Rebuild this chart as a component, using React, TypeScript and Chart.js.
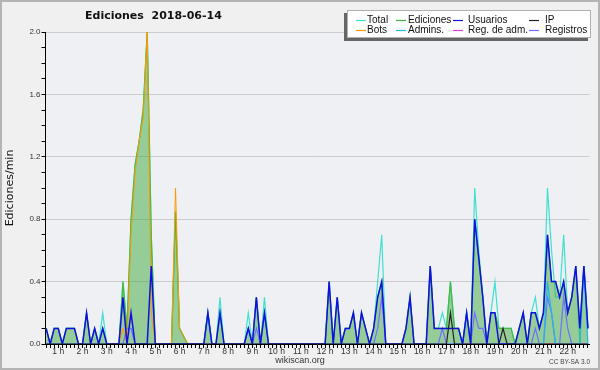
import React, { useEffect, useRef } from "react";
import { Chart, registerables } from "chart.js";

Chart.register(...registerables);

// time axis: one value every 10 minutes, from 0:30 to 22:50
const FIRST_HOUR = 0.5;
const STEP_HOURS = 1 / 6;
const X_MIN = 0.474;
const X_MAX = 22.89;

// values in edits per minute, grouped by hour
const total = [
  0.1, 0, 0.1, // 0h
  0.1, 0, 0.1, 0.1, 0.1, 0, // 1h
  0, 0.2, 0, 0.1, 0, 0.2, // 2h
  0, 0, 0, 0, 0.4, 0.1, // 3h
  0.8, 1.15, 1.3, 1.5, 2.0, 0.7, // 4h
  0, 0, 0, 0, 0, 0.85, // 5h
  0.1, 0.05, 0, 0, 0, 0, // 6h
  0, 0.2, 0, 0, 0.3, 0, // 7h
  0, 0, 0, 0, 0, 0.2, // 8h
  0, 0.3, 0, 0.3, 0, 0, // 9h
  0, 0, 0, 0, 0, 0, // 10h
  0, 0, 0, 0, 0, 0, // 11h
  0, 0.4, 0, 0.3, 0, 0.1, // 12h
  0.1, 0.2, 0, 0.2, 0.1, 0, // 13h
  0.1, 0.4, 0.7, 0, 0, 0, // 14h
  0, 0, 0.1, 0.3, 0, 0, // 15h
  0, 0, 0.5, 0.1, 0.1, 0.2, // 16h
  0.1, 0.4, 0.1, 0.1, 0, 0.2, // 17h
  0, 1.0, 0.6, 0.3, 0, 0.2, // 18h
  0.4, 0.1, 0.1, 0.1, 0.1, 0, // 19h
  0.1, 0.2, 0, 0.2, 0.3, 0.1, // 20h
  0.2, 1.0, 0.6, 0.3, 0.3, 0.7, // 21h
  0.2, 0.3, 0.5, 0, 0.5, 0.1, // 22h
];

const ediciones = [
  0.1, 0, 0.1, // 0h
  0.1, 0, 0.1, 0.1, 0.1, 0, // 1h
  0, 0.2, 0, 0.1, 0, 0.1, // 2h
  0, 0, 0, 0, 0.4, 0.1, // 3h
  0.8, 1.15, 1.3, 1.5, 2.0, 0.7, // 4h
  0, 0, 0, 0, 0, 0.85, // 5h
  0.1, 0.05, 0, 0, 0, 0, // 6h
  0, 0.2, 0, 0, 0.2, 0, // 7h
  0, 0, 0, 0, 0, 0.1, // 8h
  0, 0.3, 0, 0.2, 0, 0, // 9h
  0, 0, 0, 0, 0, 0, // 10h
  0, 0, 0, 0, 0, 0, // 11h
  0, 0.4, 0, 0.3, 0, 0.1, // 12h
  0.1, 0.2, 0, 0.2, 0.1, 0, // 13h
  0.1, 0.3, 0.4, 0, 0, 0, // 14h
  0, 0, 0.1, 0.3, 0, 0, // 15h
  0, 0, 0.5, 0.1, 0.1, 0.1, // 16h
  0.1, 0.4, 0.1, 0.1, 0, 0.2, // 17h
  0, 0.8, 0.55, 0.3, 0, 0.2, // 18h
  0.2, 0.1, 0.1, 0.1, 0.1, 0, // 19h
  0.1, 0.2, 0, 0.2, 0.2, 0.1, // 20h
  0.2, 0.7, 0.4, 0.4, 0.3, 0.4, // 21h
  0.2, 0.3, 0.5, 0.1, 0.5, 0.1, // 22h
];

const usuarios = [
  0.1, 0, 0.1, // 0h
  0.1, 0, 0.1, 0.1, 0.1, 0, // 1h
  0, 0.2, 0, 0.1, 0, 0.1, // 2h
  0, 0, 0, 0, 0.3, 0, // 3h
  0.2, 0, 0, 0, 0, 0.5, // 4h
  0, 0, 0, 0, 0, 0, // 5h
  0, 0, 0, 0, 0, 0, // 6h
  0, 0.2, 0, 0, 0.2, 0, // 7h
  0, 0, 0, 0, 0, 0.1, // 8h
  0, 0.3, 0, 0.2, 0, 0, // 9h
  0, 0, 0, 0, 0, 0, // 10h
  0, 0, 0, 0, 0, 0, // 11h
  0, 0.4, 0, 0.3, 0, 0.1, // 12h
  0.1, 0.2, 0, 0.2, 0.1, 0, // 13h
  0.1, 0.3, 0.4, 0, 0, 0, // 14h
  0, 0, 0.1, 0.3, 0, 0, // 15h
  0, 0, 0.5, 0.1, 0.1, 0.1, // 16h
  0.1, 0.1, 0.1, 0.1, 0, 0.2, // 17h
  0, 0.8, 0.55, 0.3, 0, 0.2, // 18h
  0.2, 0, 0, 0, 0, 0, // 19h
  0.1, 0.2, 0, 0.2, 0.2, 0.1, // 20h
  0.2, 0.7, 0.4, 0.4, 0.3, 0.4, // 21h
  0.2, 0.3, 0.5, 0.1, 0.5, 0.1, // 22h
];

const ip = [
  0, 0, 0, // 0h
  0, 0, 0, 0, 0, 0, // 1h
  0, 0, 0, 0, 0, 0, // 2h
  0, 0, 0, 0, 0, 0, // 3h
  0, 0, 0, 0, 0, 0, // 4h
  0, 0, 0, 0, 0, 0, // 5h
  0, 0, 0, 0, 0, 0, // 6h
  0, 0, 0, 0, 0, 0, // 7h
  0, 0, 0, 0, 0, 0, // 8h
  0, 0, 0, 0, 0, 0, // 9h
  0, 0, 0, 0, 0, 0, // 10h
  0, 0, 0, 0, 0, 0, // 11h
  0, 0, 0, 0, 0, 0, // 12h
  0, 0, 0, 0, 0, 0, // 13h
  0, 0, 0, 0, 0, 0, // 14h
  0, 0, 0, 0, 0, 0, // 15h
  0, 0, 0, 0, 0, 0, // 16h
  0, 0.2, 0, 0, 0, 0, // 17h
  0, 0, 0, 0, 0, 0, // 18h
  0, 0, 0.1, 0, 0, 0, // 19h
  0, 0, 0, 0, 0, 0, // 20h
  0, 0, 0, 0, 0, 0, // 21h
  0, 0, 0, 0, 0, 0, // 22h
];

const bots = [
  0, 0, 0, // 0h
  0, 0, 0, 0, 0, 0, // 1h
  0, 0, 0, 0, 0, 0, // 2h
  0, 0, 0, 0, 0.1, 0, // 3h
  0.7, 1.1, 1.3, 1.45, 2.0, 0.2, // 4h
  0, 0, 0, 0, 0, 1.0, // 5h
  0.1, 0.05, 0, 0, 0, 0, // 6h
  0, 0, 0, 0, 0, 0, // 7h
  0, 0, 0, 0, 0, 0, // 8h
  0, 0, 0, 0, 0, 0, // 9h
  0, 0, 0, 0, 0, 0, // 10h
  0, 0, 0, 0, 0, 0, // 11h
  0, 0, 0, 0, 0, 0, // 12h
  0, 0, 0, 0, 0, 0, // 13h
  0, 0, 0, 0, 0, 0, // 14h
  0, 0, 0, 0, 0, 0, // 15h
  0, 0, 0, 0, 0, 0, // 16h
  0, 0, 0, 0, 0, 0, // 17h
  0, 0, 0, 0, 0, 0, // 18h
  0, 0, 0, 0, 0, 0, // 19h
  0, 0, 0, 0, 0, 0, // 20h
  0, 0, 0, 0, 0, 0, // 21h
  0, 0, 0, 0, 0, 0, // 22h
];

const admins = [
  0, 0, 0, // 0h
  0, 0, 0, 0, 0, 0, // 1h
  0, 0, 0, 0, 0, 0, // 2h
  0, 0, 0, 0, 0, 0, // 3h
  0, 0, 0, 0, 0, 0, // 4h
  0, 0, 0, 0, 0, 0, // 5h
  0, 0, 0, 0, 0, 0, // 6h
  0, 0.2, 0, 0, 0, 0, // 7h
  0, 0, 0, 0, 0, 0, // 8h
  0, 0, 0, 0, 0, 0, // 9h
  0, 0, 0, 0, 0, 0, // 10h
  0, 0, 0, 0, 0, 0, // 11h
  0, 0, 0, 0, 0, 0, // 12h
  0, 0, 0, 0, 0, 0, // 13h
  0, 0, 0, 0, 0, 0, // 14h
  0, 0, 0, 0, 0, 0, // 15h
  0, 0, 0, 0, 0, 0, // 16h
  0, 0, 0, 0, 0, 0.2, // 17h
  0, 0, 0, 0, 0, 0, // 18h
  0, 0, 0, 0, 0, 0, // 19h
  0, 0, 0, 0, 0, 0, // 20h
  0, 0.4, 0.2, 0, 0, 0, // 21h
  0, 0, 0, 0, 0.5, 0, // 22h
];

const regAdm = [
  0, 0, 0, // 0h
  0, 0, 0, 0, 0, 0, // 1h
  0, 0, 0, 0, 0, 0, // 2h
  0, 0, 0, 0, 0, 0, // 3h
  0, 0, 0, 0, 0, 0, // 4h
  0, 0, 0, 0, 0, 0, // 5h
  0, 0, 0, 0, 0, 0, // 6h
  0, 0, 0, 0, 0, 0, // 7h
  0, 0, 0, 0, 0, 0, // 8h
  0, 0, 0, 0, 0, 0, // 9h
  0, 0, 0, 0, 0, 0, // 10h
  0, 0, 0, 0, 0, 0, // 11h
  0, 0, 0, 0, 0, 0, // 12h
  0, 0, 0, 0, 0, 0, // 13h
  0, 0, 0, 0, 0, 0, // 14h
  0, 0, 0, 0, 0, 0, // 15h
  0, 0, 0, 0, 0, 0, // 16h
  0, 0, 0, 0, 0, 0, // 17h
  0, 0, 0, 0, 0, 0, // 18h
  0, 0, 0, 0, 0, 0, // 19h
  0, 0, 0, 0, 0, 0, // 20h
  0, 0, 0, 0, 0, 0, // 21h
  0, 0, 0, 0, 0, 0, // 22h
];

const registros = [
  0, 0, 0, // 0h
  0, 0, 0, 0, 0, 0, // 1h
  0, 0, 0, 0, 0, 0, // 2h
  0, 0, 0, 0, 0, 0.1, // 3h
  0.1, 0, 0, 0, 0, 0, // 4h
  0, 0, 0, 0, 0, 0, // 5h
  0, 0, 0, 0, 0, 0, // 6h
  0, 0, 0, 0, 0, 0, // 7h
  0, 0, 0, 0, 0, 0.1, // 8h
  0, 0.1, 0, 0, 0, 0, // 9h
  0, 0, 0, 0, 0, 0, // 10h
  0, 0, 0, 0, 0, 0, // 11h
  0, 0, 0, 0, 0, 0, // 12h
  0, 0, 0, 0, 0, 0, // 13h
  0, 0.1, 0.3, 0, 0, 0, // 14h
  0, 0, 0, 0, 0, 0, // 15h
  0, 0, 0, 0, 0, 0.1, // 16h
  0, 0, 0, 0, 0, 0, // 17h
  0, 0.2, 0.1, 0.1, 0, 0, // 18h
  0, 0, 0, 0, 0, 0, // 19h
  0, 0, 0, 0, 0.1, 0, // 20h
  0, 0.3, 0.2, 0, 0, 0.3, // 21h
  0.1, 0, 0, 0, 0, 0, // 22h
];

const seriesNames = ["Total", "Ediciones", "Usuarios", "IP", "Bots", "Admins.", "Reg. de adm.", "Registros"];
const seriesColors = ["#40e0d0", "#3cb43c", "#1010e0", "#222222", "#ff9900", "#20b8e8", "#e040e0", "#7070ff"];
const chartTitle = "Ediciones  2018-06-14";
const yTitle = "Ediciones/min";
const footerCenter = "wikiscan.org";
const footerRight = "CC BY-SA 3.0";

const times = total.map((_, i) => FIRST_HOUR + i * STEP_HOURS);
const toPoints = (vals: number[]) => vals.map((v, i) => ({ x: times[i], y: v }));

const line = (idx: number, data: number[], order: number, extra: any = {}) => ({
  label: seriesNames[idx],
  data: toPoints(data),
  borderColor: seriesColors[idx],
  backgroundColor: seriesColors[idx],
  borderWidth: 1.2,
  pointRadius: 0,
  tension: 0,
  fill: false,
  order,
  ...extra,
});

const legendCols = [
  { line: 356, text: 367 },
  { line: 396, text: 408 },
  { line: 453, text: 468 },
  { line: 529, text: 545 },
];
const legendRows = [20, 30];

const decor = {
  id: "decor",
  beforeDraw(chart: any) {
    const { ctx, chartArea: a, width, height } = chart;
    ctx.save();
    ctx.fillStyle = "#f0f0f0";
    ctx.fillRect(0, 0, width, height);
    ctx.fillStyle = "#eef0f3";
    ctx.fillRect(a.left, a.top, a.right - a.left, a.bottom - a.top);
    ctx.restore();
  },
  afterDraw(chart: any) {
    const { ctx, width, height } = chart;
    ctx.save();
    // frame
    ctx.strokeStyle = "#b4b4b4";
    ctx.lineWidth = 2;
    ctx.strokeRect(1, 1, width - 2, height - 2);
    // title
    ctx.fillStyle = "#111";
    ctx.font = "bold 11px 'DejaVu Sans'";
    ctx.textAlign = "left";
    ctx.textBaseline = "middle";
    ctx.fillText(chartTitle, 85, 16.5);
    // legend box
    ctx.fillStyle = "#666666";
    ctx.fillRect(344, 13, 244, 28);
    ctx.fillStyle = "#ffffff";
    ctx.fillRect(347, 10, 244, 28);
    ctx.strokeStyle = "#b0b0b0";
    ctx.lineWidth = 1;
    ctx.strokeRect(347.5, 10.5, 243, 27);
    ctx.font = "10px 'Liberation Sans'";
    ctx.textBaseline = "middle";
    seriesNames.forEach((name, i) => {
      const col = legendCols[i % 4];
      const y = legendRows[Math.floor(i / 4)];
      ctx.strokeStyle = seriesColors[i];
      ctx.lineWidth = 1.2;
      ctx.beginPath();
      ctx.moveTo(col.line, y + 0.5);
      ctx.lineTo(col.line + 10, y + 0.5);
      ctx.stroke();
      ctx.fillStyle = "#111";
      ctx.fillText(name, col.text, y + 0.5);
    });
    // footers
    ctx.fillStyle = "#333";
    ctx.font = "9px 'Liberation Sans'";
    ctx.textAlign = "center";
    ctx.fillText(footerCenter, 300, 361);
    ctx.font = "6.5px 'Liberation Sans'";
    ctx.textAlign = "right";
    ctx.fillStyle = "#444";
    ctx.fillText(footerRight, 590, 362);
    ctx.restore();
  },
};

export default function App() {
  const ref = useRef<HTMLCanvasElement>(null);
  useEffect(() => {
    document.body.style.margin = "0";
    const chart = new Chart(ref.current as HTMLCanvasElement, {
      type: "line",
      data: {
        datasets: [
          line(3, ip, 0, { borderWidth: 1.2 }),
          line(2, usuarios, 1, { borderWidth: 1.5 }),
          line(5, admins, 2),
          line(7, registros, 3),
          line(6, regAdm, 4),
          line(4, bots, 5, { borderWidth: 1 }),
          line(1, ediciones, 6, { fill: "origin", backgroundColor: "rgba(62,168,61,0.5)", borderColor: "#44bb44" }),
          line(0, total, 7),
        ] as any,
      },
      options: {
        animation: false,
        responsive: false,
        devicePixelRatio: 1,
        layout: { padding: { top: 32, right: 10.7, bottom: 8, left: 0 } },
        plugins: { legend: { display: false }, tooltip: { enabled: false }, title: { display: false } },
        scales: {
          x: {
            type: "linear",
            min: X_MIN,
            max: X_MAX,
            z: 1,
            afterBuildTicks: (scale: any) => {
              scale.ticks = times.map((t) => ({ value: t }));
            },
            afterFit: (scale: any) => {
              scale.height = 18;
            },
            border: { display: true, color: "#000", width: 1 },
            grid: { drawOnChartArea: false, drawTicks: true, tickLength: 4, tickColor: "#000", tickWidth: 1 },
            ticks: {
              autoSkip: false,
              maxRotation: 0,
              padding: -1,
              color: "#333",
              font: { family: "'Liberation Sans'", size: 8.5 },
              callback: (value: any) => {
                const v = Number(value);
                const h = Math.round(v);
                return Math.abs(v - h) < 1e-6 && h >= 1 ? `${h} h` : "";
              },
            },
          },
          y: {
            min: 0,
            max: 2,
            afterFit: (scale: any) => {
              scale.width = 45.5;
            },
            border: { display: true, color: "#000", width: 1 },
            grid: {
              drawTicks: true,
              tickLength: 4,
              tickColor: "#000",
              color: (ctx: any) =>
                ctx.tick && Math.round(ctx.tick.value * 10) % 4 === 0 ? "#cccccc" : "rgba(0,0,0,0)",
            },
            title: {
              display: true,
              text: yTitle,
              color: "#111",
              font: { family: "'DejaVu Sans'", size: 11 },
              padding: { top: 4, bottom: 0 },
            },
            ticks: {
              stepSize: 0.1,
              autoSkip: false,
              padding: 1,
              color: "#333",
              font: { family: "'Liberation Sans'", size: 8 },
              callback: (value: any) => {
                const n = Math.round(Number(value) * 10);
                return n % 4 === 0 ? (n / 10).toFixed(1) : "";
              },
            },
          },
        },
      },
      plugins: [decor],
    });
    return () => chart.destroy();
  }, []);
  return (
    <div style={{ width: 600, height: 370 }}>
      <canvas ref={ref} width={600} height={370} style={{ display: "block" }} />
    </div>
  );
}
